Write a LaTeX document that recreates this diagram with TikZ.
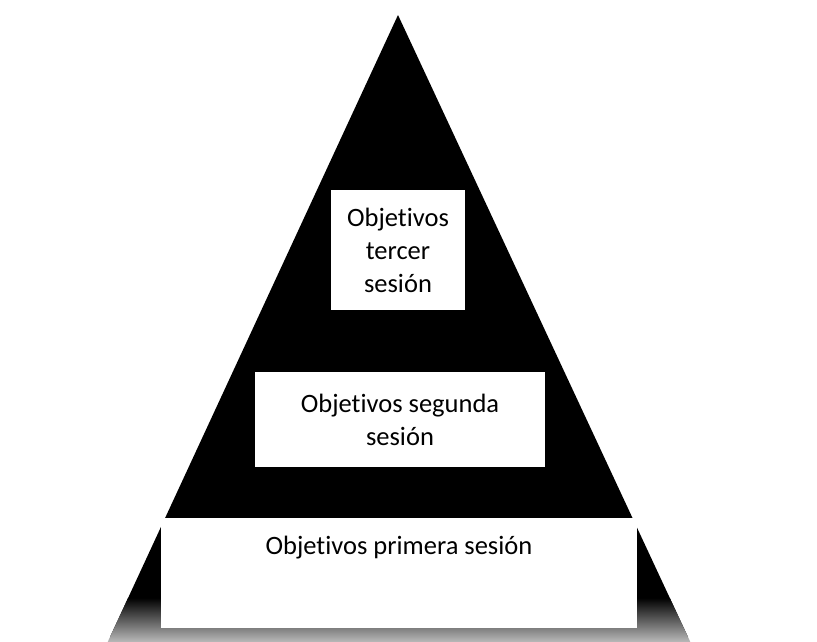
\documentclass[tikz,border=0pt]{standalone}
\usepackage{fontspec}
\setmainfont{Carlito}[Ligatures=NoCommon]
\usetikzlibrary{calc}

\begin{document}
\begin{tikzpicture}[x=1pt, y=-1pt, every node/.style={fill=white, align=center, inner sep=0pt, font=\fontsize{26.5}{33}\selectfont}]
            \useasboundingbox (0,0) rectangle (817,641);

            \coordinate (apex) at (398,15);
            \coordinate (L) at (110,637);
            \coordinate (R) at (688,637);
            \coordinate (L1) at ($(apex)!0.937!(L)$);
            \coordinate (R1) at ($(apex)!0.937!(R)$);
            \coordinate (L2) at ($(apex)!1.02!(L)$);
            \coordinate (R2) at ($(apex)!1.02!(R)$);

            \fill [black] (apex) -- (L) -- (R) -- cycle;
            % fading foot of the pyramid
            \shade [top color=black, bottom color=white!85!black] (L1) -- (L2) -- (R2) -- (R1) -- cycle;

            \node [minimum width=134, minimum height=120] (S3) at (398,250) {Objetivos\\tercer\\sesión};
            \node [minimum width=290, minimum height=95] (S2) at (400,419.5) {Objetivos segunda\\sesión};
            \node [minimum width=476, text height=36, text depth=74, anchor=north] (S1) at (399,518) {Objetivos primera sesión};

        \end{tikzpicture}
\end{document}
